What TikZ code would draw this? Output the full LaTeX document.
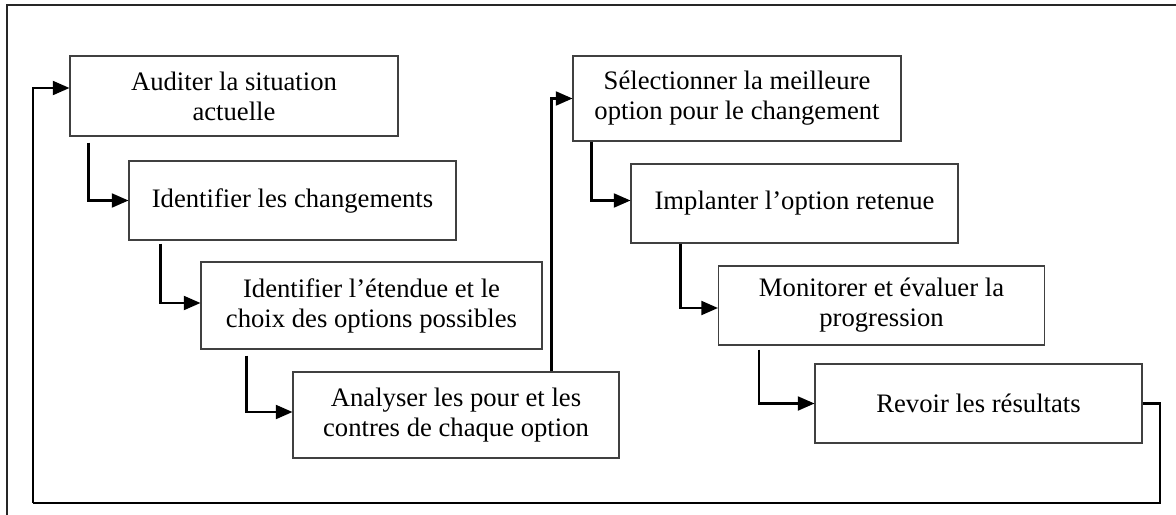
\documentclass[tikz,border=0pt]{standalone}
\usepackage{fontspec}
\setmainfont{Liberation Serif}
\usetikzlibrary{arrows.meta,calc}
\tikzset{
  stepbox/.style={draw=black!75, line width=0.8pt, inner sep=0pt, align=center,
    font=\fontsize{20}{22.5}\selectfont},
  conn/.style={line width=1.6pt, -{Triangle[length=12.5pt,width=10.5pt]}},
  plainconn/.style={line width=1.6pt},
  frame/.style={line width=2.2pt, black!85}
}
\begin{document}
\begin{tikzpicture}[x=0.75pt,y=-0.75pt]
\useasboundingbox (0,0) rectangle (1176,514);
\draw[frame] (7,530) -- (7,5) -- (1190,5);

\node[stepbox, minimum width=246pt, minimum height=60pt] (b1) at (234,96) {Auditer la situation\\actuelle};
\node[stepbox, minimum width=245.25pt, minimum height=59.25pt] (b2) at (292.5,200.5) {Identifier les changements};
\node[stepbox, minimum width=255.75pt, minimum height=65.25pt] (b3) at (371.5,305.5) {Identifier l’étendue et le\\choix des options possibles};
\node[stepbox, minimum width=244.5pt, minimum height=64.5pt] (b4) at (456,415) {Analyser les pour et les\\contres de chaque option};
\node[stepbox, minimum width=246pt, minimum height=63.75pt] (b5) at (737,98.5) {Sélectionner la meilleure\\option pour le changement};
\node[stepbox, minimum width=245.25pt, minimum height=59.25pt] (b6) at (794.5,203.5) {Implanter l’option retenue};
\node[stepbox, minimum width=244.5pt, minimum height=59.25pt] (b7) at (881.5,305.5) {Monitorer et évaluer la\\progression};
\node[stepbox, minimum width=245.25pt, minimum height=59.25pt] (b8) at (978.5,403.5) {Revoir les résultats};

\draw[conn] ($(b1.south west)+(19,6)$) |- (b2.west);
\draw[conn] ($(b2.south west)+(32,3)$) |- ($(b3.west)+(0,-2.5)$);
\draw[conn] ($(b3.south west)+(46,6)$) |- ($(b4.west)+(0,-3)$);
\draw[conn] ($(b4.north west)+(259,0)$) |- (b5.west);
\draw[conn] ($(b5.south west)+(19,0)$) |- ($(b6.west)+(0,-3)$);
\draw[conn] ($(b6.south west)+(50,0)$) |- ($(b7.west)+(0,2.5)$);
\draw[conn] ($(b7.south west)+(41,4)$) |- (b8.west);

\coordinate (lr) at (1160,503);
\coordinate (ll) at (33,503);
\draw[plainconn] (b8.east) -| (lr) -- (ll);
\draw[conn] (ll) |- ($(b1.west)+(0,-8)$);
\end{tikzpicture}
\end{document}
